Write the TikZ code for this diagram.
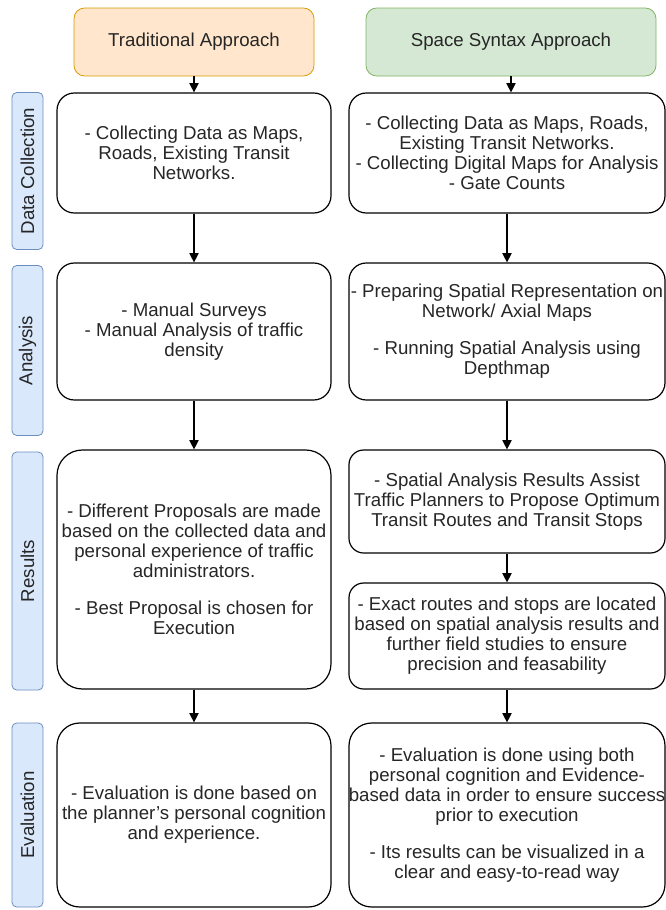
\documentclass[tikz,border=0pt]{standalone}
\usepackage{fontspec}
\setmainfont{Liberation Sans}
\usepackage{tikz}
\usetikzlibrary{arrows.meta}

\definecolor{tradfill}{HTML}{FFE6CC}
\definecolor{tradline}{HTML}{D79B00}
\definecolor{synfill}{HTML}{D5E8D4}
\definecolor{synline}{HTML}{82B366}
\definecolor{lanefill}{HTML}{DAE8FC}
\definecolor{laneline}{HTML}{6C8EBF}

\begin{document}
\begin{tikzpicture}[x=0.75pt,y=-0.75pt,
    txt/.style={align=center,inner sep=0pt,text=black!85,font=\fontsize{14pt}{15pt}\selectfont},
    box/.style={txt,draw,line width=0.9pt,rounded corners=13pt},
    lbox/.style={box,minimum width=205.5pt},
    rbox/.style={box,minimum width=237pt},
    head/.style={txt,line width=0.6pt,rounded corners=8pt,minimum height=51pt},
    lane/.style={txt,draw=laneline,fill=lanefill,line width=0.6pt,rounded corners=3.5pt,rotate=90,minimum height=23.25pt},
    arr/.style={-{Triangle[width=7pt,length=7pt]},line width=0.9pt}]
\useasboundingbox (0,0) rectangle (666,910);
%\tikzstyle{gap}=[minimum height=13pt]

% approaches
\node[head,draw=tradline,fill=tradfill,minimum width=180pt] (th) at (194,42) {Traditional Approach};
\node[head,draw=synline,fill=synfill,minimum width=217.5pt] (ts) at (511,42) {Space Syntax Approach};

% phases
\node[lane,minimum width=117.75pt] (ldc) at (27.5,171) {Data Collection};
\node[lane,minimum width=127.5pt] (lan) at (27.5,350.5) {Analysis};
\node[lane,minimum width=178.5pt] (lrs) at (27.5,571) {Results};
\node[lane,minimum width=138pt] (lev) at (27.5,815) {Evaluation};

% traditional column
\node[lbox,minimum height=90pt] (dcl) at (194,153) {- Collecting Data as Maps,\\ Roads, Existing Transit\\ Networks.};
\node[lbox,minimum height=102.75pt] (anl) at (194,331.5) {- Manual Surveys\\ - Manual Analysis of traffic\\ density};
\node[lbox,minimum height=179.25pt,rounded corners=19pt] (rsl) at (194,569.5) {- Different Proposals are made\\ based on the collected data and\\ personal experience of traffic\\ administrators.\\[13pt] - Best Proposal is chosen for\\ Execution};
\node[lbox,minimum height=138pt,rounded corners=17pt] (evl) at (194,815) {- Evaluation is done based on\\ the planner's personal cognition\\ and experience.};

% space syntax column
\node[rbox,minimum height=90pt] (dcr) at (507,153) {- Collecting Data as Maps, Roads,\\ Existing Transit Networks.\\ - Collecting Digital Maps for Analysis\\ - Gate Counts};
\node[rbox,minimum height=102.75pt] (anr) at (507,331.5) {- Preparing Spatial Representation on\\ Network/ Axial Maps\\[13pt] - Running Spatial Analysis using\\ Depthmap};
\node[rbox,minimum height=77.25pt,rounded corners=11pt] (rsa) at (507,501.5) {- Spatial Analysis Results Assist\\ Traffic Planners to Propose Optimum\\ Transit Routes and Transit Stops};
\node[rbox,minimum height=79.5pt,rounded corners=11pt] (rsb) at (507,636) {- Exact routes and stops are located\\ based on spatial analysis results and\\ further field studies to ensure\\ precision and feasability};
\node[rbox,minimum height=138pt,rounded corners=17pt] (evr) at (507,815) {- Evaluation is done using both\\ personal cognition and Evidence-\\ \makebox[0pt]{based data in order to ensure success}\\ prior to execution\\[13pt] - Its results can be visualized in a\\ clear and easy-to-read way};

\path [arr] (th) edge (dcl);
\path [arr] (dcl) edge (anl);
\path [arr] (anl) edge (rsl);
\path [arr] (rsl) edge (evl);
\draw [arr] (ts.south) -- (ts.south |- dcr.north);
\path [arr] (dcr) edge (anr);
\path [arr] (anr) edge (rsa);
\path [arr] (rsa) edge (rsb);
\path [arr] (rsb) edge (evr);
\end{tikzpicture}
\end{document}
